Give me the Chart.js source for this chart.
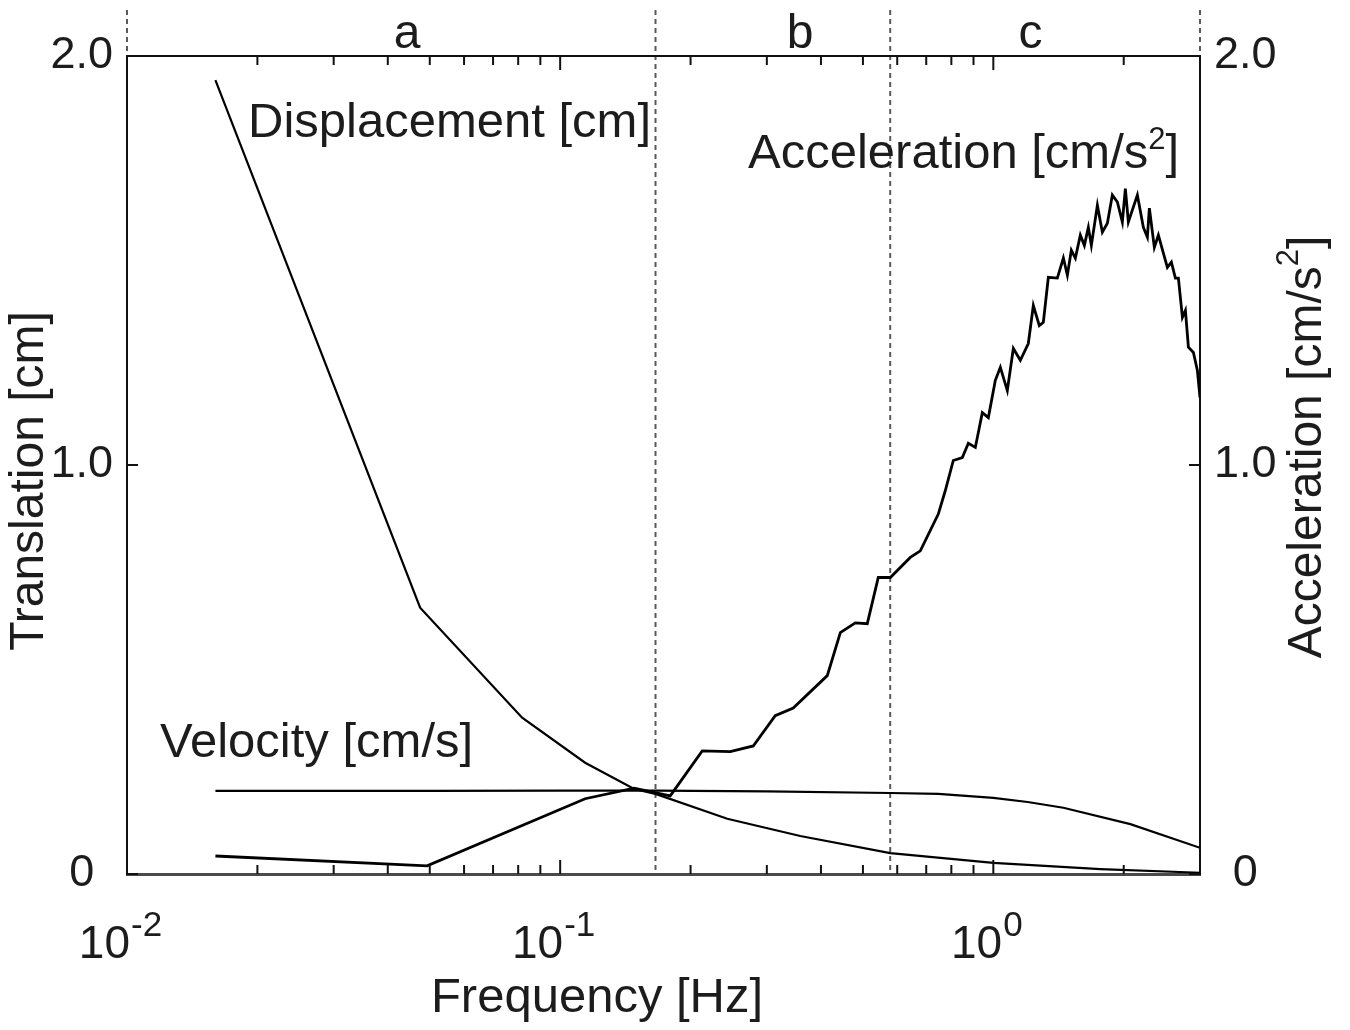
<!DOCTYPE html>
<html>
<head>
<meta charset="utf-8">
<title>Translation spectrum</title>
<script src="https://cdn.jsdelivr.net/npm/chart.js@4.4.1/dist/chart.umd.min.js"></script>
<style>
  html, body { margin: 0; padding: 0; background: #fff; }
  canvas { display: block; }
</style>
</head>
<body>
<canvas id="spectrum" width="1350" height="1030"></canvas>
<script>
// Values (frequency in Hz, amplitude on 0-2 scale)
const dispFreq = [0.016, 0.0475, 0.0817, 0.1142, 0.1482, 0.166, 0.2431, 0.3583, 0.5783, 1.0, 1.766, 3.0];
const dispVal  = [1.941, 0.651, 0.382, 0.272, 0.208, 0.196, 0.135, 0.093, 0.051, 0.027, 0.012, 0.003];

const velFreq = [0.016, 0.05, 0.1, 0.166, 0.30, 0.5783, 0.7464, 1.0, 1.2, 1.451, 2.072, 3.0];
const velVal  = [0.203, 0.203, 0.204, 0.204, 0.202, 0.198, 0.196, 0.186, 0.176, 0.162, 0.122, 0.064];

const accFreq = [
  0.016, 0.0493, 0.1142, 0.1482, 0.1795, 0.2128, 0.2470, 0.2791, 0.3137, 0.3452,
  0.4137, 0.4434, 0.4801, 0.5117, 0.5425, 0.5783, 0.6432, 0.6783, 0.7464, 0.7745,
  0.8083, 0.8480, 0.8757, 0.9088, 0.9432, 0.9739, 1.0107, 1.0380, 1.0772, 1.1122,
  1.1544, 1.2044, 1.2370, 1.2770, 1.3046, 1.3397, 1.4054, 1.4511, 1.4822, 1.5139,
  1.5466, 1.5881, 1.6224, 1.6572, 1.6838, 1.7386, 1.7853, 1.8335, 1.8827, 1.9335,
  1.9855, 2.0174, 2.0500, 2.1505, 2.2200, 2.2680, 2.2922, 2.3536, 2.4046, 2.4693,
  2.5223, 2.5767, 2.6321, 2.6746, 2.7322, 2.7762, 2.8206, 2.8967, 2.9587, 3.0
];
const accVal = [
  0.044, 0.020, 0.184, 0.210, 0.191, 0.301, 0.299, 0.313, 0.387, 0.406,
  0.485, 0.590, 0.614, 0.612, 0.725, 0.725, 0.774, 0.790, 0.880, 0.937,
  1.011, 1.018, 1.053, 1.043, 1.128, 1.116, 1.207, 1.239, 1.182, 1.285,
  1.256, 1.297, 1.390, 1.341, 1.349, 1.459, 1.457, 1.506, 1.464, 1.525,
  1.506, 1.562, 1.537, 1.581, 1.537, 1.635, 1.569, 1.591, 1.660, 1.643,
  1.594, 1.676, 1.594, 1.660, 1.581, 1.557, 1.628, 1.532, 1.562, 1.518,
  1.483, 1.496, 1.457, 1.457, 1.361, 1.378, 1.288, 1.275, 1.231, 1.165
];

// Frequency bands a / b / c
const bandEdges = [0.01, 0.166, 0.578, 3.0];
const bandNames = ['a', 'b', 'c'];
const bandLabelFreq = [0.0443, 0.358, 1.218];

// Axis ticks
const xMinorTicks = [0.02, 0.03, 0.04, 0.05, 0.06, 0.07, 0.08, 0.09,
                     0.2, 0.3, 0.4, 0.5, 0.6, 0.7, 0.8, 0.9, 2];
const xMajorTicks = [0.1, 1];
const xLabelValues = [0.01, 0.1, 1];
const xLabelExps = ['-2', '-1', '0'];
const yTicks = [0, 1, 2];

const FONT = '"Liberation Sans", Arial, Helvetica, sans-serif';
const INK = '#1c1c1c';

const toPoints = (xs, ys) => xs.map((f, i) => ({ x: f, y: ys[i] }));

// text with a raised "2" before the closing bracket, e.g. [cm/s²]
function drawSquaredLabel(ctx, x, y, size, align) {
  const head = 'Acceleration [cm/s';
  const supSize = Math.round(size * 0.64);
  ctx.font = size + 'px ' + FONT;
  const wHead = ctx.measureText(head).width;
  const wEnd = ctx.measureText(']').width;
  ctx.font = supSize + 'px ' + FONT;
  const wSup = ctx.measureText('2').width;
  const total = wHead + wSup + wEnd;
  const x0 = align === 'center' ? x - total / 2 : x;
  ctx.textAlign = 'left';
  ctx.font = size + 'px ' + FONT;
  ctx.fillText(head, x0, y);
  ctx.fillText(']', x0 + wHead + wSup, y);
  ctx.font = supSize + 'px ' + FONT;
  ctx.fillText('2', x0 + wHead, y - size * 0.38);
}

// Draws the band dividers, inward tick marks, superscript tick labels and all titles
const decorations = {
  id: 'decorations',
  beforeDraw(chart) {
    const { ctx, chartArea, scales } = chart;
    ctx.save();
    ctx.strokeStyle = '#5a5a5a';
    ctx.lineWidth = 2;
    ctx.setLineDash([5, 4]);
    bandEdges.forEach((f, i) => {
      const px = scales.x.getPixelForValue(f);
      const inner = i > 0 && i < bandEdges.length - 1;
      ctx.beginPath();
      ctx.moveTo(px, 10);
      ctx.lineTo(px, inner ? chartArea.bottom : chartArea.top);
      ctx.stroke();
    });
    ctx.setLineDash([]);
    ctx.fillStyle = INK;
    ctx.font = '48px ' + FONT;
    ctx.textAlign = 'center';
    ctx.textBaseline = 'alphabetic';
    bandNames.forEach((name, i) => {
      ctx.fillText(name, scales.x.getPixelForValue(bandLabelFreq[i]), 48);
    });
    ctx.restore();
  },
  afterDraw(chart) {
    const { ctx, chartArea, scales } = chart;
    const { left, right, top, bottom } = chartArea;
    ctx.save();

    // inward tick marks
    ctx.strokeStyle = '#111';
    ctx.lineWidth = 2;
    ctx.beginPath();
    xMinorTicks.concat(xMajorTicks).forEach(v => {
      const px = scales.x.getPixelForValue(v);
      const len = xMajorTicks.includes(v) ? 14 : 9;
      ctx.moveTo(px, bottom); ctx.lineTo(px, bottom - len);
      ctx.moveTo(px, top); ctx.lineTo(px, top + len);
    });
    yTicks.forEach(v => {
      const py = scales.y.getPixelForValue(v);
      ctx.moveTo(left, py); ctx.lineTo(left + 11, py);
      ctx.moveTo(right, py); ctx.lineTo(right - 11, py);
    });
    ctx.stroke();

    // x tick labels: 10 with superscript exponent
    ctx.fillStyle = INK;
    ctx.textBaseline = 'alphabetic';
    ctx.textAlign = 'left';
    xLabelValues.forEach((v, i) => {
      const px = scales.x.getPixelForValue(v);
      ctx.font = '46px ' + FONT;
      const wBase = ctx.measureText('10').width;
      ctx.font = '35px ' + FONT;
      const wExp = ctx.measureText(xLabelExps[i]).width;
      const x0 = px - (wBase + wExp) / 2 - 7;
      ctx.font = '46px ' + FONT;
      ctx.fillText('10', x0, 958);
      ctx.font = '35px ' + FONT;
      ctx.fillText(xLabelExps[i], x0 + wBase + 1, 936);
    });

    // axis titles
    ctx.font = '49px ' + FONT;
    ctx.textAlign = 'center';
    ctx.fillText('Frequency [Hz]', 597, 1012);

    ctx.textBaseline = 'middle';
    ctx.save();
    ctx.translate(30, 481);
    ctx.rotate(-Math.PI / 2);
    ctx.font = '48px ' + FONT;
    ctx.fillText('Translation [cm]', 0, 0);
    ctx.restore();

    ctx.save();
    ctx.translate(1308, 447);
    ctx.rotate(-Math.PI / 2);
    drawSquaredLabel(ctx, 0, 0, 48, 'center');
    ctx.restore();

    // curve labels
    ctx.textBaseline = 'alphabetic';
    ctx.textAlign = 'left';
    ctx.font = '49px ' + FONT;
    ctx.fillText('Displacement [cm]', 248, 137);
    ctx.fillText('Velocity [cm/s]', 160, 757);
    drawSquaredLabel(ctx, 748, 168, 49, 'left');

    ctx.restore();
  }
};

const lineStyle = {
  showLine: true,
  pointRadius: 0,
  borderColor: '#000',
  backgroundColor: '#000',
  fill: false,
  tension: 0,
};

const yTickOptions = {
  stepSize: 1,
  font: { size: 45, family: FONT },
  color: INK,
  padding: 14,
  crossAlign: 'center',
  callback: v => (v === 0 ? '0' : v.toFixed(1)),
};

new Chart(document.getElementById('spectrum').getContext('2d'), {
  type: 'scatter',
  data: {
    datasets: [
      { ...lineStyle, label: 'Displacement [cm]', data: toPoints(dispFreq, dispVal), borderWidth: 2.2, yAxisID: 'y' },
      { ...lineStyle, label: 'Velocity [cm/s]', data: toPoints(velFreq, velVal), borderWidth: 2.2, yAxisID: 'y' },
      { ...lineStyle, label: 'Acceleration [cm/s2]', data: toPoints(accFreq, accVal), borderWidth: 2.8, yAxisID: 'y2' },
    ],
  },
  options: {
    responsive: false,
    animation: false,
    layout: { padding: 0 },
    plugins: {
      legend: { display: false },
      tooltip: { enabled: false },
    },
    scales: {
      x: {
        type: 'logarithmic',
        position: 'bottom',
        min: 0.01,
        max: 3.0,
        ticks: { display: false },
        grid: { display: false, drawTicks: false },
        border: { color: '#4a4a4a', width: 3 },
        afterFit: s => { s.height = 156; },
      },
      xTop: {
        type: 'logarithmic',
        position: 'top',
        min: 0.01,
        max: 3.0,
        ticks: { display: false },
        grid: { display: false, drawTicks: false },
        border: { color: '#111', width: 2 },
        afterFit: s => { s.height = 56; },
      },
      y: {
        position: 'left',
        min: 0,
        max: 2,
        ticks: yTickOptions,
        grid: { display: false, drawTicks: false },
        border: { color: '#111', width: 2 },
        afterFit: s => { s.width = 127; },
      },
      y2: {
        position: 'right',
        min: 0,
        max: 2,
        ticks: yTickOptions,
        grid: { display: false, drawTicks: false },
        border: { color: '#111', width: 2 },
        afterFit: s => { s.width = 150; },
      },
    },
  },
  plugins: [decorations],
});
</script>
</body>
</html>
